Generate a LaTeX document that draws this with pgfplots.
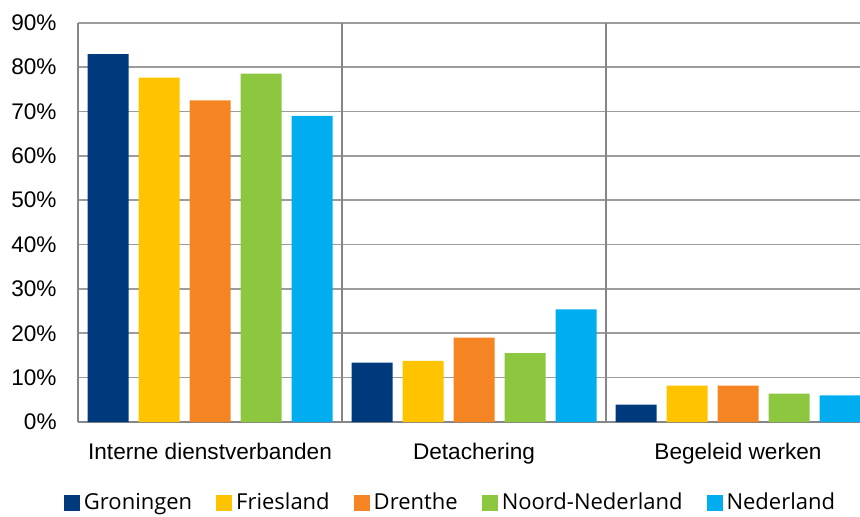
\documentclass[border=0pt]{standalone}
\usepackage{pgfplots}
\pgfplotsset{compat=1.18}
\usepackage{fontspec}
\setmainfont{Liberation Sans}
\newfontfamily\legfont{Open Sans}
\definecolor{cGro}{HTML}{003A7D}
\definecolor{cFri}{HTML}{FFC300}
\definecolor{cDre}{HTML}{F58423}
\definecolor{cNNL}{HTML}{8DC63F}
\definecolor{cNed}{HTML}{00AEEF}
\definecolor{gridh}{HTML}{9C9C9C}
\definecolor{gridv}{HTML}{868686}
\pgfplotsset{mylegend/.style={legend image code/.code={\path[##1, draw=none] (0pt,-4pt) rectangle (8pt,4pt);}}}
\begin{document}
\begin{tikzpicture}
\begin{axis}[
  scale only axis,
  width=391pt, height=199.65pt,
  xmin=-0.5, xmax=2.4621, ymin=0, ymax=90,
  ybar=5pt, bar width=20.5pt,
  axis x line*=bottom, axis y line*=left,
  axis line style={gridv, line width=0.8pt, -},
  xtick={0,1,2},
  xticklabels={Interne dienstverbanden, Detachering, Begeleid werken},
  ytick={0,10,...,90},
  yticklabels={0\%,10\%,20\%,30\%,40\%,50\%,60\%,70\%,80\%,90\%},
  major tick length=0pt,
  /pgf/number format/assume math mode=true,
  tick label style={font=\fontsize{11.3}{13}\selectfont},
  xticklabel style={anchor=base, yshift=-18.5pt},
  yticklabel style={anchor=east, inner sep=0pt, xshift=-10.5pt},
  ymajorgrids,
  major grid style={gridh, line width=0.8pt},
  extra x ticks={0.5,1.5},
  extra x tick labels={},
  extra x tick style={grid=major, major grid style={gridv, line width=0.8pt}},
  legend columns=5,
  legend style={at={(0.4776,-0.2029)}, anchor=center, draw=none,
    font=\legfont\fontsize{11}{13}\selectfont,
    /tikz/every even column/.append style={column sep=10pt},
    cells={anchor=west}},
]
\coordinate (ll) at (rel axis cs:0,0);
\coordinate (ur) at (rel axis cs:1,1);
\addplot[fill=cGro, draw=none, mylegend] coordinates {(0,82.9) (1,13.4) (2,3.9)};
\addplot[fill=cFri, draw=none, mylegend] coordinates {(0,77.6) (1,13.8) (2,8.2)};
\addplot[fill=cDre, draw=none, mylegend] coordinates {(0,72.5) (1,19.0) (2,8.2)};
\addplot[fill=cNNL, draw=none, mylegend] coordinates {(0,78.5) (1,15.5) (2,6.4)};
\addplot[fill=cNed, draw=none, mylegend] coordinates {(0,69.0) (1,25.4) (2,6.0)};
\legend{Groningen, Friesland, Drenthe, Noord-Nederland, Nederland}
\end{axis}
\pgfresetboundingbox
\path ([shift={(-39pt,-47pt)}]ll) rectangle ([shift={(0pt,11.35pt)}]ur);
\end{tikzpicture}
\end{document}
